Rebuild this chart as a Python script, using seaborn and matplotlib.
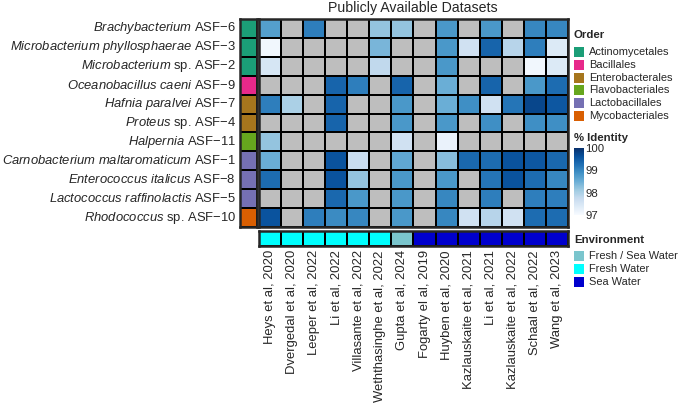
import numpy as np
import pandas as pd
import matplotlib
matplotlib.use("Agg")
import matplotlib.pyplot as plt
from matplotlib.colors import ListedColormap
from matplotlib.patches import Rectangle
import seaborn as sns

# ---- data -------------------------------------------------------------
isolates = [
    r"$\it{Brachybacterium}$ ASF−6",
    r"$\it{Microbacterium\ phyllosphaerae}$ ASF−3",
    r"$\it{Microbacterium}$ sp. ASF−2",
    r"$\it{Oceanobacillus\ caeni}$ ASF−9",
    r"$\it{Hafnia\ paralvei}$ ASF−7",
    r"$\it{Proteus}$ sp. ASF−4",
    r"$\it{Halpernia}$ ASF−11",
    r"$\it{Carnobacterium\ maltaromaticum}$ ASF−1",
    r"$\it{Enterococcus\ italicus}$ ASF−8",
    r"$\it{Lactococcus\ raffinolactis}$ ASF−5",
    r"$\it{Rhodococcus}$ sp. ASF−10",
]
orders = ["Actinomycetales", "Actinomycetales", "Actinomycetales", "Bacillales",
          "Enterobacterales", "Enterobacterales", "Flavobacteriales",
          "Lactobacillales", "Lactobacillales", "Lactobacillales", "Mycobacteriales"]

datasets = ["Heys et al, 2020", "Dvergedal et al, 2020", "Leeper et al, 2022",
            "Li et al, 2022", "Villasante et al, 2022", "Weththasinghe et al, 2022",
            "Gupta et al, 2024", "Fogarty el al, 2019", "Huyben et al, 2020",
            "Kazlauskaite et al, 2021", "Li et al, 2021", "Kazlauskaite et al, 2022",
            "Schaal et al, 2022", "Wang et al, 2023"]
environment = ["Fresh Water"] * 6 + ["Fresh / Sea Water"] + ["Sea Water"] * 7

nan = np.nan
identity = [
    [98.7, nan, 99.1, nan, nan, 98.2, 98.2, nan, 98.8, nan, 98.8, nan, 99.0, 99.0],
    [97.1, nan, nan, nan, nan, 98.4, nan, nan, 98.8, 97.6, 99.4, 97.9, 99.1, 97.4],
    [97.5, nan, nan, nan, nan, 97.8, nan, nan, 98.8, nan, nan, nan, 97.1, 97.4],
    [nan, nan, nan, 99.4, 99.1, nan, 99.4, nan, 98.5, nan, 99.4, nan, 98.8, 99.3],
    [99.1, 98.0, nan, 99.4, nan, nan, 98.8, nan, 98.5, 98.9, 97.6, 99.2, 99.75, 99.55],
    [nan, nan, nan, 99.4, nan, nan, 98.8, nan, 98.8, nan, 98.9, nan, 98.9, 98.9],
    [98.2, nan, nan, nan, nan, nan, 97.6, nan, 97.2, nan, nan, nan, nan, nan],
    [98.5, nan, nan, 99.6, 97.7, nan, 98.6, nan, 98.3, 99.35, 99.3, 99.6, 99.55, 99.35],
    [99.3, nan, nan, 99.6, 98.2, nan, 98.8, nan, 98.8, nan, 99.2, 99.6, 99.3, 99.0],
    [nan, nan, nan, 99.35, 98.8, nan, 98.8, nan, 99.0, nan, 99.1, nan, 99.1, 99.1],
    [99.6, nan, 99.1, 98.95, 99.0, nan, 98.8, nan, 99.0, 97.6, 97.9, 97.6, 99.3, 99.3],
]

order_levels = ["Actinomycetales", "Bacillales", "Enterobacterales",
                "Flavobacteriales", "Lactobacillales", "Mycobacteriales"]
order_colors = ["#1B9E77", "#E7298A", "#A6761D", "#66A61E", "#7570B3", "#D95F02"]
env_levels = ["Fresh / Sea Water", "Fresh Water", "Sea Water"]
env_colors = ["#7AC5CD", "#00FFFF", "#0000CD"]

# ---- style ------------------------------------------------------------
sns.set_style("white")
plt.rcParams["font.family"] = ["Liberation Sans", "DejaVu Sans"]
plt.rcParams["mathtext.fontset"] = "custom"
plt.rcParams["mathtext.it"] = "Liberation Sans:italic"
plt.rcParams["mathtext.rm"] = "Liberation Sans"

df = pd.DataFrame(identity, index=isolates, columns=datasets)
W, H = 679, 404
fig = plt.figure(figsize=(W / 100, H / 100), dpi=100)

def box(x0, y0, x1, y1):
    return [x0 / W, 1 - y1 / H, (x1 - x0) / W, (y1 - y0) / H]

ax = fig.add_axes(box(259, 19, 568, 227))
ax_ord = fig.add_axes(box(240, 19, 257, 227))
ax_env = fig.add_axes(box(259, 231, 568, 246))
cax = fig.add_axes(box(574, 148, 584, 215))

lw = 1.4
# grey background cells for missing values
sns.heatmap(pd.DataFrame(0, index=isolates, columns=datasets), ax=ax,
            cmap=ListedColormap(["#BEBEBE"]), cbar=False,
            linewidths=lw, linecolor="black", xticklabels=False, yticklabels=False)
sns.heatmap(df, mask=df.isna(), ax=ax, cmap="Blues", vmin=97, vmax=100,
            cbar_ax=cax, linewidths=lw, linecolor="black",
            xticklabels=False, yticklabels=False)
for s in ax.spines.values():
    s.set_visible(True)
    s.set_linewidth(1.8)

# order strip
ord_codes = pd.DataFrame([order_levels.index(o) for o in orders], index=isolates)
sns.heatmap(ord_codes, ax=ax_ord, cmap=ListedColormap(order_colors),
            vmin=-0.5, vmax=len(order_levels) - 0.5, cbar=False,
            linewidths=lw, linecolor="black", xticklabels=False, yticklabels=True)
ax_ord.set_yticklabels(isolates, rotation=0, fontsize=9.4)
ax_ord.tick_params(axis="y", length=0, pad=3)
ax_ord.set_ylabel("")
for s in ax_ord.spines.values():
    s.set_visible(True)
    s.set_linewidth(1.8)

# environment strip
env_codes = pd.DataFrame([[env_levels.index(e) for e in environment]], columns=datasets)
sns.heatmap(env_codes, ax=ax_env, cmap=ListedColormap(env_colors),
            vmin=-0.5, vmax=len(env_levels) - 0.5, cbar=False,
            linewidths=lw, linecolor="black", xticklabels=True, yticklabels=False)
ax_env.set_xticklabels(datasets, rotation=90, fontsize=9.4)
ax_env.tick_params(axis="x", length=0, pad=3)
ax_env.set_xlabel("")
for s in ax_env.spines.values():
    s.set_visible(True)
    s.set_linewidth(1.8)

# colorbar
cb = ax.collections[-1].colorbar
cb.set_ticks([97, 98, 99, 100])
cb.outline.set_visible(False)
cax.tick_params(axis="y", direction="in", color="white", length=3, width=1.2,
                labelsize=8.2, pad=1, left=True, right=True)

fig.text(413 / W, 1 - 8 / H, "Publicly Available Datasets", ha="center", va="center",
         fontsize=10.2)

# legends drawn as key squares + labels
def add_legend(title, labels, colors, y_title, y_first, step=12.8):
    fig.text(574 / W, 1 - y_title / H, title, ha="left", va="center",
             fontsize=8.2, fontweight="bold")
    for i, (lab, col) in enumerate(zip(labels, colors)):
        yc = y_first + step * i
        fig.patches.append(Rectangle((574 / W, 1 - (yc + 5) / H), 10 / W, 10 / H,
                                     transform=fig.transFigure, facecolor=col,
                                     edgecolor="none"))
        fig.text(589 / W, 1 - yc / H, lab, ha="left", va="center", fontsize=7.9)

add_legend("Order", order_levels, order_colors, 35, 52)
add_legend("Environment", env_levels, env_colors, 240, 256)
fig.text(574 / W, 1 - 138 / H, "% Identity", ha="left", va="center",
         fontsize=8.2, fontweight="bold")

fig.savefig("out.png", dpi=100)
